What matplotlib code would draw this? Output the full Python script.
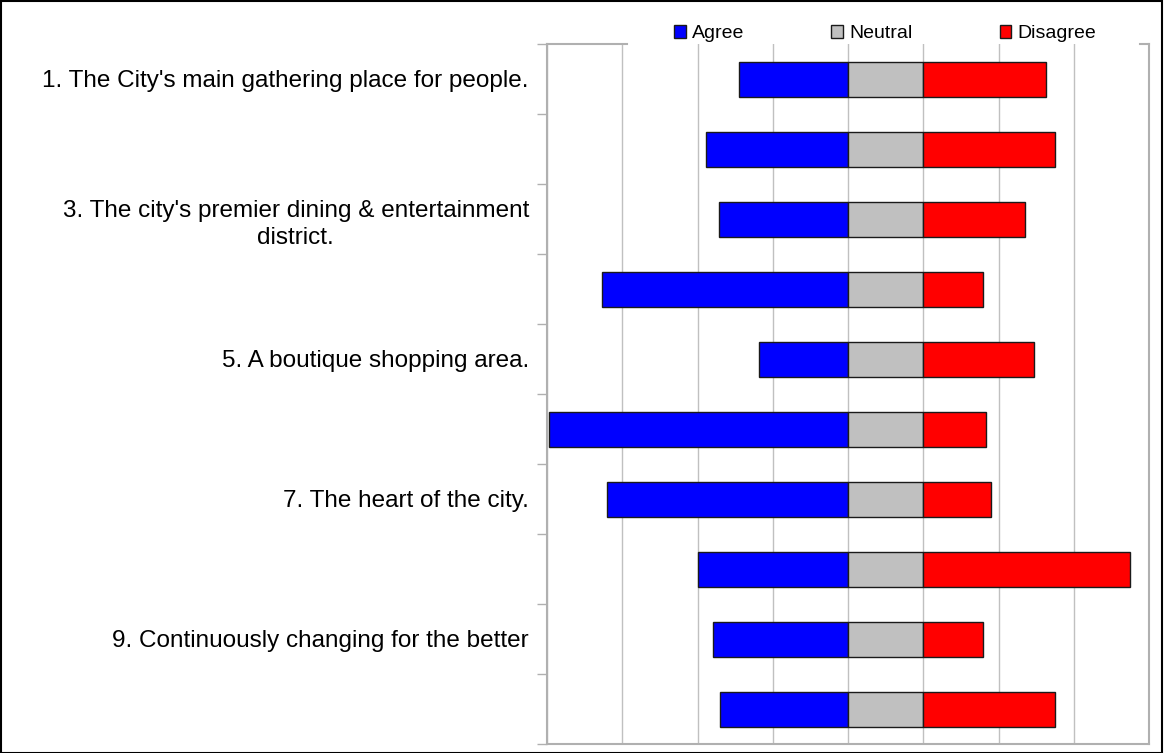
import numpy as np
import matplotlib.pyplot as plt
from matplotlib.patches import Rectangle

plt.rcParams['font.family'] = ['Liberation Sans', 'DejaVu Sans']

# survey statements (only every other one is labelled on the axis)
labels = [
    "1. The City's main gathering place for people.",
    "",
    "3. The city's premier dining & entertainment\ndistrict.",
    "",
    "5. A boutique shopping area.",
    "",
    "7. The heart of the city.",
    "",
    "9. Continuously changing for the better",
    "",
]
agree = [14.5, 18.9, 17.1, 32.7, 11.8, 39.7, 32.0, 19.9, 17.9, 17.0]
neutral = [10, 10, 10, 10, 10, 10, 10, 10, 10, 10]
disagree = [16.3, 17.5, 13.5, 8.0, 14.7, 8.4, 9.0, 27.5, 8.0, 17.5]

fig = plt.figure(figsize=(11.64, 7.53), dpi=100)
ax = fig.add_axes([547 / 1164, 1 - 744 / 753, 602 / 1164, 700 / 753])

y = np.arange(len(labels))
h = 0.5
ax.barh(y, [-a for a in agree], height=h, color='#0000ff', edgecolor='#1a1a1a', lw=1, label='Agree', zorder=3)
ax.barh(y, neutral, height=h, color='#c0c0c0', edgecolor='#1a1a1a', lw=1, label='Neutral', zorder=3)
ax.barh(y, disagree, left=neutral, height=h, color='#ff0000', edgecolor='#1a1a1a', lw=1, label='Disagree', zorder=3)

ax.set_xlim(-40, 40)
ax.set_ylim(len(labels) - 0.5, -0.5)
ax.set_xticks(np.arange(-40, 41, 10))
ax.tick_params(axis='x', length=0, labelbottom=False)
ax.grid(axis='x', color='#c0c0c0', lw=1, zorder=0)

# labels sit between tick marks drawn at category boundaries
ax.set_yticks(y)
ax.set_yticklabels(labels, fontsize=17.5, multialignment='center', linespacing=1.3)
ax.tick_params(axis='y', which='major', length=0, pad=13)
ax.set_yticks(np.arange(-0.5, len(labels)), minor=True)
ax.tick_params(axis='y', which='minor', length=7, width=1, color='#b0b0b0')

for s in ax.spines.values():
    s.set_color('#b0b0b0')
    s.set_linewidth(1.5)
# the legend box hides most of the top border
ax.spines['top'].set_visible(False)
for x0, x1 in [(0, 0.133), (0.985, 1)]:
    ax.plot([x0, x1], [1, 1], transform=ax.transAxes, color='#b0b0b0', lw=1.5, clip_on=False)

leg = ax.legend(loc='center', bbox_to_anchor=(0.5615, 1.0145), ncol=3, frameon=False,
                fontsize=14, handlelength=0.6, handleheight=0.6, handletextpad=0.3,
                columnspacing=4.5, borderpad=0.1)

fig.patches.append(Rectangle((0.0005, 0.0005), 0.998, 0.998, transform=fig.transFigure,
                             fill=False, edgecolor='black', lw=1.5))

fig.savefig('out.png', dpi=100)
